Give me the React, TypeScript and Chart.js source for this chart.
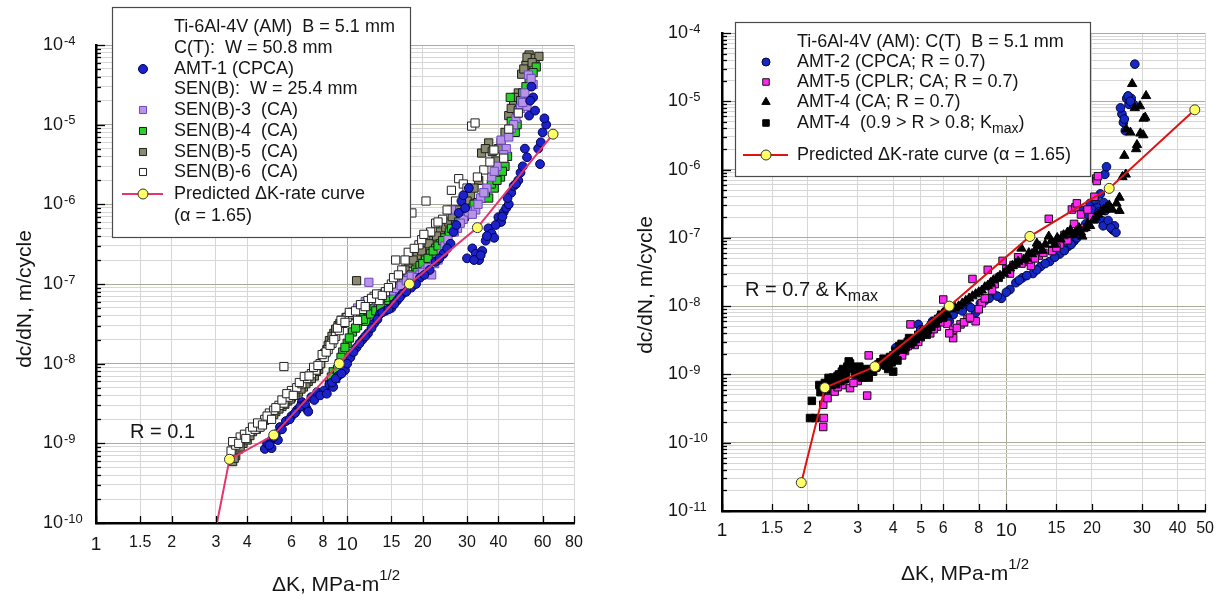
import React, { useEffect, useRef } from 'react';
import { Chart, registerables } from 'chart.js';

Chart.register(...registerables);

const FONT = "'Liberation Sans', Arial, Helvetica, sans-serif";
const H = 602;

// ---------------- LEFT CHART DATA (R = 0.1) ----------------
const leftXTickValues = [1, 1.5, 2, 3, 4, 6, 8, 10, 15, 20, 30, 40, 60, 80];
const leftYExponents = [-10, -9, -8, -7, -6, -5, -4];

const amt1 = [
  [4.7, 8.5e-10], [4.8, 1.0e-9], [5.0, 8.7e-10], [5.0, 1.1e-9], [5.2, 1.3e-9], [5.3, 1.1e-9], [5.4, 1.6e-9],
  [5.7, 1.9e-9], [6.0, 2.2e-9], [6.3, 2.6e-9], [6.6, 3.3e-9], [6.9, 2.7e-9], [7.2, 3.8e-9], [7.6, 4.4e-9],
  [8.1, 4.6e-9], [8.5, 5.5e-9], [8.8, 5.1e-9], [9.2, 7.0e-9], [9.8, 8.3e-9], [10.3, 1.2e-8], [10.9, 1.6e-8],
  [11.5, 2.0e-8], [12.1, 2.4e-8], [12.8, 3.2e-8], [13.5, 4.2e-8], [14.2, 4.6e-8], [15.0, 5.0e-8], [15.8, 6.2e-8],
  [16.6, 7.5e-8], [18.0, 9.0e-8], [19.5, 1.2e-7], [21.3, 1.5e-7], [22.5, 1.9e-7], [24.2, 2.4e-7], [25.8, 3.2e-7],
  [26.5, 4.5e-7], [27.8, 7.8e-7], [28.5, 1.1e-6], [29.5, 9.0e-7], [30.5, 1.6e-6], [31.5, 2.8e-7], [32.5, 2.4e-7],
  [33.5, 2.0e-7], [34.5, 2.6e-7], [35.6, 3.5e-7], [36.5, 5.0e-7], [37.6, 4.3e-7], [38.5, 3.8e-7], [40.0, 6.9e-7],
  [41.0, 6.0e-7], [42.0, 8.0e-7], [43.0, 9.0e-7], [44.0, 1.0e-6], [45.0, 1.4e-6], [46.0, 1.7e-6], [48.0, 2.0e-6],
  [49.0, 2.5e-6], [51.0, 5.0e-6], [52.0, 3.9e-6], [53.0, 1.3e-5], [54.2, 3.0e-5], [55.0, 2.2e-5], [57.6, 5.0e-6],
  [58.6, 3.2e-6], [60.0, 8.0e-6], [62.0, 1.0e-5],
  [4.9, 9.5e-10], [5.1, 1.2e-9], [5.5, 1.5e-9], [5.9, 2.0e-9], [6.2, 2.4e-9], [6.5, 2.9e-9], [6.8, 3.1e-9],
  [7.0, 2.5e-9], [7.4, 3.5e-9], [7.8, 4.0e-9], [8.3, 4.2e-9], [8.7, 5.8e-9], [9.0, 6.5e-9], [9.5, 7.5e-9],
  [10.0, 1.0e-8], [10.6, 1.4e-8], [11.2, 1.8e-8], [11.8, 2.2e-8], [12.5, 2.8e-8], [13.2, 3.6e-8], [13.8, 4.4e-8],
  [14.6, 4.8e-8], [15.4, 5.6e-8], [16.2, 6.8e-8], [17.2, 8.0e-8], [18.8, 1.0e-7], [20.3, 1.3e-7], [23.3, 2.1e-7],
  [25.0, 2.8e-7], [27.2, 5.5e-7], [29.0, 1.3e-6], [30.0, 2.1e-7], [32.0, 2.0e-7], [34.0, 2.3e-7], [36.0, 4.0e-7],
  [39.0, 5.5e-7], [41.5, 7.0e-7], [43.5, 1.2e-6], [47.0, 1.8e-6], [50.0, 3.0e-6], [53.5, 2.0e-5], [56.0, 1.5e-5],
  [59.0, 6.0e-6], [61.0, 1.2e-5],
];
const sen3 = [
  [11.0, 5.0e-8], [11.8, 6.0e-8], [12.2, 1.05e-7], [13.0, 6.8e-8], [13.8, 7.5e-8], [14.5, 8.0e-8], [15.3, 8.5e-8],
  [16.0, 9.0e-8], [16.8, 1.0e-7], [17.6, 1.2e-7], [18.5, 1.1e-7], [19.5, 1.3e-7], [20.5, 1.5e-7], [21.7, 1.3e-7],
  [23.0, 2.0e-7], [24.5, 3.0e-7], [26.0, 8.5e-7], [27.5, 5.0e-7], [29.0, 6.5e-7], [30.5, 8.0e-7], [32.5, 8.5e-7],
  [34.0, 1.2e-6], [36.0, 1.6e-6], [37.6, 2.2e-6], [39.5, 3.0e-6], [41.0, 6.4e-6], [43.0, 5.0e-6], [45.0, 9.0e-6],
  [47.0, 1.2e-5], [49.0, 1.6e-5], [52.0, 1.7e-5], [52.7, 4.2e-5], [55.0, 3.2e-5],
  [11.5, 5.5e-8], [12.5, 6.3e-8], [13.4, 7.0e-8], [14.2, 7.8e-8], [15.0, 8.2e-8], [15.7, 8.8e-8], [16.4, 9.5e-8],
  [17.2, 1.1e-7], [18.0, 1.25e-7], [19.0, 1.2e-7], [20.0, 1.4e-7], [21.0, 1.6e-7], [22.3, 1.8e-7], [23.8, 2.4e-7],
  [25.2, 3.6e-7], [26.7, 4.5e-7], [28.2, 5.8e-7], [31.5, 7.5e-7], [33.2, 1.0e-6], [35.0, 1.4e-6], [38.5, 2.6e-6],
  [42.0, 4.2e-6], [44.0, 7.0e-6], [46.0, 1.0e-5], [48.0, 1.4e-5], [50.0, 1.9e-5], [51.0, 2.5e-5], [54.0, 3.8e-5],
];
const sen4 = [
  [8.5, 5.5e-9], [8.8, 7.9e-9], [9.0, 6.5e-9], [9.3, 1.0e-8], [9.6, 1.4e-8], [10.0, 1.8e-8], [10.5, 2.5e-8],
  [11.0, 3.0e-8], [11.3, 3.8e-8], [11.9, 3.4e-8], [12.1, 4.6e-8], [12.8, 5.0e-8], [13.3, 5.6e-8], [13.9, 6.2e-8],
  [14.3, 6.2e-8], [15.0, 7.6e-8], [15.6, 8.3e-8], [16.0, 9.0e-8], [16.8, 1.05e-7], [17.5, 1.2e-7], [18.7, 1.5e-7],
  [19.5, 1.7e-7], [20.5, 2.0e-7], [21.5, 2.4e-7], [22.5, 2.8e-7], [23.5, 3.2e-7], [24.5, 3.8e-7], [25.5, 4.5e-7],
  [27.0, 5.5e-7], [28.5, 6.5e-7], [30.0, 7.5e-7], [31.5, 9.0e-7], [33.0, 1.05e-6], [34.3, 1.2e-6], [36.6, 1.2e-6],
  [38.5, 1.6e-6], [40.8, 2.2e-6], [42.5, 3.0e-6], [44.6, 2.2e-5], [45.0, 1.1e-5], [46.7, 8.0e-6], [48.0, 1.5e-5],
  [50.0, 2.5e-5], [53.0, 3.5e-5], [56.6, 5.3e-5],
  [8.65, 6.8e-9], [9.15, 8.5e-9], [9.45, 1.2e-8], [9.8, 1.6e-8], [10.2, 2.1e-8], [10.8, 2.8e-8], [11.6, 3.6e-8],
  [12.4, 4.2e-8], [13.0, 4.6e-8], [13.6, 5.2e-8], [14.6, 6.8e-8], [15.3, 7.0e-8], [16.4, 8.8e-8], [17.2, 1.0e-7],
  [18.0, 1.3e-7], [19.0, 1.4e-7], [20.0, 1.8e-7], [21.0, 2.1e-7], [22.0, 2.6e-7], [23.0, 3.0e-7], [24.0, 3.5e-7],
  [26.0, 5.0e-7], [27.8, 6.0e-7], [29.3, 7.0e-7], [32.0, 1.0e-6], [35.5, 1.4e-6], [37.5, 1.8e-6], [39.5, 2.0e-6],
  [41.5, 2.6e-6], [43.5, 4.0e-6], [47.5, 1.0e-5], [49.0, 2.0e-5], [51.5, 3.0e-5], [55.0, 4.5e-5],
];
const sen5 = [
  [3.5, 5.9e-10], [3.6, 7.0e-10], [3.7, 8.5e-10], [3.85, 1.0e-9], [4.0, 1.1e-9], [4.2, 1.4e-9], [4.45, 1.6e-9],
  [4.7, 1.95e-9], [4.95, 2.2e-9], [5.2, 2.5e-9], [5.5, 2.9e-9], [5.8, 3.4e-9], [6.0, 3.8e-9], [6.4, 4.4e-9],
  [6.7, 5.1e-9], [7.0, 6.0e-9], [7.4, 7.0e-9], [7.7, 8.5e-9], [8.0, 1.2e-8], [8.3, 1.5e-8], [8.5, 1.95e-8],
  [8.85, 2.4e-8], [9.2, 3.0e-8], [9.5, 3.5e-8], [9.7, 3.4e-8], [10.2, 4.0e-8], [10.9, 1.1e-7], [11.5, 5.0e-8],
  [12.5, 5.8e-8], [13.5, 6.8e-8], [14.5, 8.0e-8], [15.5, 1.0e-7], [16.5, 1.3e-7], [17.6, 1.8e-7], [19.0, 2.3e-7],
  [20.5, 2.9e-7], [22.0, 3.5e-7], [23.5, 4.5e-7], [24.7, 5.1e-7], [25.4, 6.0e-7], [27.0, 7.5e-7], [29.0, 9.6e-7],
  [31.0, 1.3e-6], [33.4, 2.0e-6], [34.3, 4.4e-6], [36.6, 5.9e-6], [39.0, 3.5e-6], [41.0, 6.0e-6], [44.0, 1.3e-5],
  [46.0, 1.9e-5], [48.0, 2.5e-5], [49.5, 4.3e-5], [51.5, 5.6e-5], [53.0, 7.5e-5], [56.0, 6.8e-5], [58.0, 7.2e-5],
  [3.55, 6.5e-10], [3.75, 9.0e-10], [3.95, 1.2e-9], [4.1, 1.25e-9], [4.35, 1.5e-9], [4.6, 1.75e-9], [4.85, 2.0e-9],
  [5.1, 2.3e-9], [5.35, 2.7e-9], [5.65, 3.1e-9], [5.95, 3.6e-9], [6.2, 4.0e-9], [6.55, 4.8e-9], [6.85, 5.6e-9],
  [7.2, 6.5e-9], [7.55, 8.0e-9], [7.85, 1.0e-8], [8.15, 1.35e-8], [8.4, 1.7e-8], [8.7, 2.2e-8], [9.0, 2.7e-8],
  [9.35, 3.2e-8], [9.9, 3.8e-8], [10.5, 4.4e-8], [11.0, 4.6e-8], [12.0, 5.4e-8], [13.0, 6.3e-8], [14.0, 7.4e-8],
  [15.0, 9.0e-8], [16.0, 1.15e-7], [17.0, 1.5e-7], [18.3, 2.0e-7], [19.8, 2.6e-7], [21.2, 3.2e-7], [22.7, 4.0e-7],
  [26.2, 7.0e-7], [28.0, 8.5e-7], [30.0, 1.1e-6], [32.0, 1.6e-6], [35.5, 5.0e-6], [37.8, 4.6e-6], [40.0, 5.0e-6],
  [42.5, 8.0e-6], [45.0, 1.6e-5], [47.0, 2.2e-5], [50.5, 5.0e-5], [52.0, 7.0e-5], [54.5, 6.0e-5],
];
const sen6 = [
  [3.45, 8.0e-10], [3.6, 9.5e-10], [3.75, 1.2e-9], [3.9, 1.3e-9], [4.1, 1.4e-9], [4.3, 1.5e-9], [4.5, 1.6e-9],
  [4.7, 2.0e-9], [4.9, 2.4e-9], [5.1, 2.6e-9], [5.35, 3.0e-9], [5.6, 3.2e-9], [5.6, 9.2e-9], [5.85, 3.8e-9],
  [6.0, 4.6e-9], [6.3, 5.0e-9], [6.6, 5.6e-9], [6.9, 6.5e-9], [7.2, 7.5e-9], [7.5, 8.3e-9], [7.8, 1.0e-8],
  [8.1, 1.2e-8], [8.4, 1.5e-8], [8.7, 1.8e-8], [9.0, 2.2e-8], [9.3, 2.6e-8], [9.6, 3.2e-8], [10.0, 3.8e-8],
  [10.5, 4.2e-8], [11.0, 3.5e-8], [11.5, 4.8e-8], [12.1, 6.2e-8], [12.8, 7.0e-8], [13.4, 6.2e-8], [14.2, 8.0e-8],
  [15.0, 1.0e-7], [15.6, 2.0e-7], [16.5, 1.5e-7], [17.5, 2.5e-7], [18.1, 7.8e-7], [19.3, 3.1e-7], [20.6, 1.1e-6],
  [21.5, 4.5e-7], [22.5, 5.8e-7], [24.0, 6.5e-7], [26.0, 1.5e-6], [27.8, 2.1e-6], [29.0, 1.8e-6], [31.3, 9.6e-6],
  [32.3, 1.05e-5], [35.0, 2.7e-6], [38.4, 4.8e-6], [42.0, 3.8e-6], [44.0, 8.8e-6], [48.0, 1.4e-5],
  [3.5, 1.05e-9], [3.7, 1.0e-9], [3.95, 1.15e-9], [4.2, 1.6e-9], [4.4, 1.8e-9], [4.6, 1.7e-9], [4.8, 2.2e-9],
  [5.0, 2.0e-9], [5.2, 2.8e-9], [5.5, 3.5e-9], [5.75, 4.2e-9], [6.1, 4.0e-9], [6.45, 5.8e-9], [6.75, 6.9e-9],
  [7.05, 7.0e-9], [7.35, 9.0e-9], [7.65, 9.5e-9], [7.95, 1.3e-8], [8.25, 1.4e-8], [8.55, 1.7e-8], [8.85, 2.0e-8],
  [9.15, 2.8e-8], [9.45, 3.5e-8], [9.8, 3.3e-8], [10.2, 4.4e-8], [10.8, 4.6e-8], [11.3, 5.5e-8], [11.8, 5.2e-8],
  [12.5, 6.6e-8], [13.1, 7.5e-8], [13.8, 7.2e-8], [14.6, 9.0e-8], [15.3, 1.2e-7], [16.0, 1.3e-7], [17.0, 2.0e-7],
  [18.5, 2.8e-7], [19.8, 3.6e-7], [20.2, 4.2e-7], [23.0, 6.0e-7], [25.0, 8.5e-7], [27.0, 1.1e-6], [30.0, 1.6e-6],
  [33.0, 2.2e-6], [37.0, 3.4e-6],
];
const leftPredicted = [
  [2.78, 2.5e-11], [3.4, 6.3e-10], [5.1, 1.27e-9], [9.3, 1.0e-8], [17.7, 1.0e-7], [33.0, 5.1e-7], [66.0, 7.6e-6],
];

// ---------------- RIGHT CHART DATA (R = 0.7 & Kmax) ----------------
const rightXTickValues = [1, 1.5, 2, 3, 4, 5, 6, 8, 10, 15, 20, 30, 40, 50];
const rightYExponents = [-11, -10, -9, -8, -7, -6, -5, -4];

const amt2 = [
  [4.08, 2.45e-9], [4.9, 5.4e-9], [5.5, 6.0e-9], [6.0, 7.0e-9], [6.3, 6.0e-9], [6.7, 9.0e-9], [7.3, 1.05e-8],
  [7.8, 8.0e-9], [8.4, 1.2e-8], [9.0, 1.5e-8], [9.6, 1.3e-8], [10.3, 1.75e-8], [10.8, 2.2e-8], [11.4, 2.6e-8],
  [12.4, 3.0e-8], [13.2, 3.8e-8], [14.2, 4.5e-8], [15.4, 5.8e-8], [16.5, 7.5e-8], [17.3, 9.0e-8], [18.0, 1.1e-7],
  [18.5, 2.5e-7], [19.0, 1.6e-7], [19.7, 3.2e-7], [20.3, 2.0e-7], [20.8, 2.8e-7], [21.0, 2.0e-7], [21.4, 4.4e-7],
  [21.7, 1.8e-7], [22.0, 3.3e-7], [22.2, 8.5e-7], [22.3, 2.5e-7], [22.5, 1.1e-6], [23.0, 2.8e-7], [23.7, 1.3e-7],
  [24.0, 1.5e-7], [25.5, 6.5e-6], [25.8, 4.9e-6], [26.2, 3.7e-6], [26.5, 1.1e-5], [27.0, 9.0e-6], [27.5, 1.1e-5],
  [28.0, 9.0e-6], [28.3, 3.5e-5],
  [5.0, 4.5e-9], [5.8, 6.5e-9], [6.5, 7.5e-9], [7.0, 8.5e-9], [7.5, 9.5e-9], [8.1, 1.1e-8], [8.7, 1.3e-8],
  [9.3, 1.4e-8], [10.0, 1.6e-8], [11.1, 2.4e-8], [11.8, 2.8e-8], [12.8, 3.4e-8], [13.7, 4.2e-8], [14.8, 5.2e-8],
  [16.0, 6.5e-8], [16.9, 8.0e-8], [17.7, 1.0e-7], [19.3, 2.2e-7], [20.0, 2.6e-7], [20.5, 3.6e-7], [21.2, 2.4e-7],
  [21.9, 1.5e-7], [22.8, 1.8e-7], [23.3, 1.4e-7], [24.3, 1.2e-7], [25.2, 8.0e-6], [26.0, 5.5e-6], [26.8, 1.2e-5],
  [27.3, 1.0e-5],
];
const amt5 = [
  [2.27, 3.6e-10], [2.28, 2.3e-10], [2.27, 1.7e-10], [2.49, 5.6e-10], [2.65, 7.0e-10], [2.82, 6.3e-10], [3.0, 8.0e-10],
  [3.24, 4.9e-10], [3.28, 1.9e-9], [3.5, 1.3e-9], [3.75, 1.6e-9], [4.0, 1.9e-9], [4.2, 2.4e-9], [4.4, 2.2e-9],
  [4.6, 5.4e-9], [4.76, 2.7e-9], [5.0, 3.5e-9], [5.15, 4.5e-9], [5.4, 4.0e-9], [5.7, 5.0e-9], [6.0, 1.25e-8],
  [6.2, 5.5e-9], [6.5, 4.5e-9], [6.5, 3.4e-9], [6.9, 5.4e-9], [7.3, 6.5e-9], [7.6, 2.5e-8], [7.8, 6.0e-9],
  [8.2, 1.1e-8], [8.6, 3.4e-8], [9.1, 2.1e-8], [9.7, 4.6e-8], [10.3, 3.0e-8], [11.0, 5.2e-8], [11.6, 4.5e-8],
  [12.2, 3.9e-8], [13.0, 5.5e-8], [14.1, 1.9e-7], [14.5, 6.4e-8], [15.4, 8.0e-8], [16.4, 9.2e-8], [17.0, 2.6e-7],
  [17.5, 2.8e-7], [17.7, 3.2e-7], [18.8, 1.4e-7], [20.0, 2.0e-7], [20.7, 7.4e-7], [20.8, 6.8e-7], [21.0, 8.0e-7],
  [2.35, 4.5e-10], [2.55, 6.5e-10], [2.9, 7.5e-10], [3.1, 9.0e-10], [3.35, 1.1e-9], [3.6, 1.5e-9], [3.85, 1.4e-9],
  [4.1, 2.1e-9], [4.3, 1.9e-9], [4.5, 2.6e-9], [4.9, 3.0e-9], [5.25, 3.8e-9], [5.55, 4.6e-9], [5.85, 5.8e-9],
  [6.3, 4.0e-9], [6.7, 4.8e-9], [7.1, 5.8e-9], [7.45, 6.8e-9], [8.0, 9.0e-9], [8.4, 1.3e-8], [8.9, 1.7e-8],
  [9.4, 2.6e-8], [10.0, 3.5e-8], [10.6, 4.0e-8], [11.3, 4.2e-8], [12.0, 4.8e-8], [12.6, 5.0e-8], [13.5, 6.0e-8],
  [15.0, 7.2e-8], [16.0, 1.1e-7], [17.3, 1.6e-7], [18.3, 2.2e-7], [19.3, 2.6e-7], [20.4, 4.0e-7],
];
const amt4ca = [
  [5.3, 5.0e-9], [5.7, 6.5e-9], [6.0, 8.0e-9], [6.4, 9.0e-9], [6.8, 1.0e-8], [7.2, 1.2e-8], [7.6, 1.4e-8],
  [8.0, 1.6e-8], [8.4, 1.9e-8], [8.8, 2.2e-8], [9.3, 2.6e-8], [9.8, 3.0e-8], [10.3, 3.6e-8], [10.8, 4.2e-8],
  [11.3, 7.0e-8], [11.8, 5.0e-8], [12.3, 5.8e-8], [12.8, 8.3e-8], [13.4, 6.5e-8], [14.1, 1.05e-7], [14.8, 8.0e-8],
  [15.5, 9.5e-8], [16.4, 1.2e-7], [17.2, 1.1e-7], [18.0, 1.4e-7], [18.5, 1.05e-7], [19.3, 1.6e-7], [20.2, 1.8e-7],
  [21.0, 2.2e-7], [22.0, 2.6e-7], [23.0, 3.0e-7], [24.4, 3.2e-7], [25.0, 3.9e-7], [25.0, 2.5e-7], [25.6, 7.8e-7],
  [26.0, 1.6e-6], [26.3, 8.5e-7], [26.4, 3.9e-6], [27.3, 3.5e-6], [27.7, 1.8e-5], [28.3, 8.0e-6], [28.6, 2.0e-6],
  [28.8, 2.3e-6], [29.5, 8.5e-6], [29.6, 3.4e-6], [30.3, 3.2e-6], [30.4, 5.6e-6], [30.8, 5.8e-6], [31.0, 1.2e-5],
  [5.5, 5.8e-9], [5.85, 7.0e-9], [6.2, 7.5e-9], [6.6, 9.5e-9], [7.0, 1.1e-8], [7.4, 1.3e-8], [7.8, 1.5e-8],
  [8.2, 1.7e-8], [8.6, 2.0e-8], [9.0, 2.4e-8], [9.5, 2.8e-8], [10.0, 3.3e-8], [10.5, 3.9e-8], [11.0, 4.5e-8],
  [11.5, 4.8e-8], [12.0, 6.0e-8], [12.6, 6.5e-8], [13.1, 7.5e-8], [13.7, 8.0e-8], [14.4, 9.0e-8], [15.1, 1.0e-7],
  [15.9, 1.1e-7], [16.8, 1.3e-7], [17.6, 1.25e-7], [18.3, 1.2e-7], [19.0, 1.4e-7], [19.7, 1.5e-7], [20.6, 2.0e-7],
  [21.5, 2.4e-7], [22.5, 2.8e-7], [23.6, 2.6e-7],
];
const amt4kmax = [
  [2.04, 2.3e-10], [2.07, 4.1e-10], [2.13, 2.3e-10], [2.2, 7.0e-10], [2.25, 6.0e-10], [2.3, 7.5e-10], [2.37, 8.9e-10],
  [2.43, 7.0e-10], [2.49, 7.9e-10], [2.55, 9.5e-10], [2.64, 1.1e-9], [2.7, 8.5e-10], [2.76, 1.3e-9], [2.82, 1.45e-9],
  [2.9, 1.2e-9], [3.0, 1.1e-9], [3.08, 1.0e-9], [3.15, 1.2e-9], [3.28, 9.0e-10], [3.4, 1.1e-9], [3.55, 1.4e-9],
  [3.7, 1.7e-9], [3.84, 1.2e-9], [3.95, 1.5e-9], [4.0, 1.1e-9], [4.08, 2.2e-9], [4.2, 2.6e-9], [4.35, 2.3e-9],
  [4.5, 3.0e-9], [4.6, 2.8e-9], [4.8, 3.3e-9], [5.0, 3.6e-9], [5.1, 4.2e-9], [5.3, 4.5e-9], [5.55, 5.6e-9],
  [5.75, 6.5e-9], [5.9, 7.5e-9], [6.1, 8.0e-9],
  [2.22, 5.5e-10], [2.28, 6.8e-10], [2.33, 6.0e-10], [2.4, 8.0e-10], [2.46, 9.0e-10], [2.52, 7.2e-10], [2.58, 1.0e-9],
  [2.61, 8.0e-10], [2.67, 1.2e-9], [2.73, 1.0e-9], [2.79, 1.55e-9], [2.86, 1.3e-9], [2.94, 1.0e-9], [3.04, 1.3e-9],
  [3.12, 9.0e-10], [3.2, 1.05e-9], [3.34, 1.2e-9], [3.47, 1.25e-9], [3.62, 1.5e-9], [3.77, 1.35e-9], [3.9, 1.8e-9],
  [4.04, 1.9e-9], [4.14, 1.6e-9], [4.28, 2.8e-9], [4.42, 2.5e-9], [4.55, 3.4e-9], [4.7, 3.0e-9], [4.9, 3.8e-9],
  [5.2, 3.9e-9], [5.45, 5.0e-9], [5.65, 5.6e-9], [6.0, 6.8e-9],
];
const rightPredicted = [
  [1.9, 2.6e-11], [2.3, 6.4e-10], [3.45, 1.3e-9], [6.3, 1.0e-8], [12.1, 1.05e-7], [23.0, 5.3e-7], [46.0, 7.5e-6],
];

// ---------------- helpers ----------------
const toPts = (arr) => arr.map((p) => ({ x: p[0], y: p[1] }));

function isDecade(v) {
  const l = Math.log10(v);
  return Math.abs(l - Math.round(l)) < 1e-6;
}

function buildYTicks(exps) {
  const lo = Math.min(...exps);
  const hi = Math.max(...exps);
  const out = [];
  for (let e = lo; e < hi; e++) {
    for (let m = 1; m < 10; m++) out.push(m * Math.pow(10, e));
  }
  out.push(Math.pow(10, hi));
  return out;
}

function drawMarker(ctx, style, x, y, r, fill, stroke, bw) {
  ctx.beginPath();
  if (style === 'circle') {
    ctx.arc(x, y, r, 0, Math.PI * 2);
  } else if (style === 'rect') {
    const s = r * Math.SQRT1_2;
    ctx.rect(x - s, y - s, 2 * s, 2 * s);
  } else if (style === 'triangle') {
    let rad = 0;
    const step = (2 * Math.PI) / 3;
    ctx.moveTo(x + Math.sin(rad) * r, y - Math.cos(rad) * r);
    rad += step;
    ctx.lineTo(x + Math.sin(rad) * r, y - Math.cos(rad) * r);
    rad += step;
    ctx.lineTo(x + Math.sin(rad) * r, y - Math.cos(rad) * r);
    ctx.closePath();
  }
  ctx.fillStyle = fill;
  ctx.fill();
  ctx.lineWidth = bw;
  ctx.strokeStyle = stroke;
  ctx.stroke();
}

function drawParts(ctx, parts, x, y, size, color) {
  let cx = x;
  ctx.textBaseline = 'middle';
  ctx.textAlign = 'left';
  ctx.fillStyle = color;
  for (const p of parts) {
    let s = size;
    let dy = 0;
    if (p.sub) { s = Math.round(size * 0.78); dy = size * 0.32; }
    if (p.sup) { s = Math.round(size * 0.72); dy = -size * 0.42; }
    ctx.font = `${s}px ${FONT}`;
    ctx.fillText(p.t, cx, y + dy);
    cx += ctx.measureText(p.t).width;
  }
  return cx - x;
}

function measureParts(ctx, parts, size) {
  let w = 0;
  for (const p of parts) {
    let s = size;
    if (p.sub) s = Math.round(size * 0.78);
    if (p.sup) s = Math.round(size * 0.72);
    ctx.font = `${s}px ${FONT}`;
    w += ctx.measureText(p.t).width;
  }
  return w;
}

const MAJOR_GRID = '#aaa99a';
const MINOR_GRID = '#d6d6d6';
const TEXT = '#151515';

function makeDecor(spec) {
  return {
    id: 'decor' + spec.key,
    afterDraw(chart) {
      const { ctx, chartArea } = chart;
      const xs = chart.scales.x;
      const ys = chart.scales.y;
      ctx.save();
      // inside tick marks
      ctx.strokeStyle = '#000';
      ctx.lineWidth = 1.3;
      for (const v of spec.yTicks) {
        const y = Math.round(ys.getPixelForValue(v)) + 0.5;
        const len = isDecade(v) ? 9 : 5;
        ctx.beginPath();
        ctx.moveTo(chartArea.left, y);
        ctx.lineTo(chartArea.left + len, y);
        ctx.stroke();
      }
      for (const v of spec.xTicks) {
        const x = Math.round(xs.getPixelForValue(v)) + 0.5;
        ctx.beginPath();
        ctx.moveTo(x, chartArea.bottom);
        ctx.lineTo(x, chartArea.bottom - 7);
        ctx.stroke();
      }
      // y tick labels: 10^e
      for (const e of spec.yExps) {
        const y = ys.getPixelForValue(Math.pow(10, e));
        ctx.font = `${spec.yLabelSize}px ${FONT}`;
        ctx.fillStyle = TEXT;
        ctx.textAlign = 'left';
        ctx.textBaseline = 'middle';
        ctx.fillText('10', spec.yLabelX, y);
        const w = ctx.measureText('10').width;
        ctx.font = `${spec.yExpSize}px ${FONT}`;
        ctx.fillText(String(e), spec.yLabelX + w + 1, y - 4);
      }
      // y title
      ctx.save();
      ctx.translate(spec.yTitle.x, spec.yTitle.y);
      ctx.rotate(-Math.PI / 2);
      ctx.font = `${spec.titleSize}px ${FONT}`;
      ctx.fillStyle = TEXT;
      ctx.textAlign = 'center';
      ctx.textBaseline = 'middle';
      ctx.fillText('dc/dN, m/cycle', 0, 0);
      ctx.restore();
      // x title
      const xParts = [{ t: '\u0394K, MPa-m' }, { t: '1/2', sup: true }];
      const xw = measureParts(ctx, xParts, spec.titleSize);
      drawParts(ctx, xParts, spec.xTitle.x - xw / 2, spec.xTitle.y, spec.titleSize, TEXT);
      // annotation
      drawParts(ctx, spec.note.parts, spec.note.x, spec.note.y, spec.note.size, TEXT);
      // legend
      const L = spec.legend;
      ctx.fillStyle = '#ffffff';
      ctx.fillRect(L.box[0], L.box[1], L.box[2], L.box[3]);
      ctx.strokeStyle = '#4a4a4a';
      ctx.lineWidth = 1.2;
      ctx.strokeRect(L.box[0] + 0.5, L.box[1] + 0.5, L.box[2], L.box[3]);
      for (const row of L.rows) {
        if (row.ds !== undefined) {
          const ds = chart.data.datasets[row.ds];
          if (row.line) {
            ctx.strokeStyle = ds.borderColor;
            ctx.lineWidth = ds.borderWidth;
            ctx.beginPath();
            ctx.moveTo(L.lineX[0], row.y);
            ctx.lineTo(L.lineX[1], row.y);
            ctx.stroke();
          }
          drawMarker(ctx, ds.pointStyle, L.markerX, row.y, row.r || ds.pointRadius,
            ds.pointBackgroundColor, ds.pointBorderColor, ds.pointBorderWidth);
        }
        drawParts(ctx, row.parts, L.textX, row.y, L.size, TEXT);
      }
      ctx.restore();
    },
  };
}

function makeConfig(spec) {
  const area = spec.area;
  return {
    type: 'scatter',
    data: { datasets: spec.datasets },
    options: {
      animation: false,
      responsive: false,
      devicePixelRatio: 1,
      events: [],
      layout: { padding: { left: 0, right: spec.canvasWidth - area.right, top: area.top, bottom: 0 } },
      plugins: { legend: { display: false }, tooltip: { enabled: false } },
      scales: {
        x: {
          type: 'logarithmic',
          min: spec.xMin,
          max: spec.xMax,
          afterBuildTicks: (scale) => { scale.ticks = spec.xTicks.map((v) => ({ value: v })); },
          afterFit: (scale) => { scale.height = H - area.bottom; },
          grid: {
            drawTicks: false,
            lineWidth: 1,
            color: (c) => (c.tick && c.tick.value === 10 ? MAJOR_GRID : MINOR_GRID),
          },
          border: { display: true, color: '#000', width: 2.5 },
          ticks: {
            autoSkip: false,
            maxRotation: 0,
            padding: spec.xLabelPad,
            color: TEXT,
            font: (c) => ({ family: FONT, size: c.tick && (c.tick.value === 1 || c.tick.value === 10) ? 19 : 16 }),
            callback: (v) => String(v),
          },
        },
        y: {
          type: 'logarithmic',
          min: Math.pow(10, Math.min(...spec.yExps)),
          max: Math.pow(10, Math.max(...spec.yExps)),
          afterBuildTicks: (scale) => { scale.ticks = spec.yTicks.map((v) => ({ value: v })); },
          afterFit: (scale) => { scale.width = area.left; },
          grid: {
            drawTicks: false,
            lineWidth: 1,
            color: (c) => (c.tick && isDecade(c.tick.value) ? MAJOR_GRID : MINOR_GRID),
          },
          border: { display: true, color: '#000', width: 2.5 },
          ticks: { display: false },
        },
      },
    },
    plugins: [makeDecor(spec)],
  };
}

function pointSet(label, data, style, r, fill, stroke) {
  return {
    label,
    data: toPts(data),
    pointStyle: style,
    pointRadius: r,
    pointBackgroundColor: fill,
    pointBorderColor: stroke,
    pointBorderWidth: 1,
    backgroundColor: fill,
    borderColor: stroke,
  };
}

function lineSet(label, data, color) {
  return {
    label,
    data: toPts(data),
    showLine: true,
    borderColor: color,
    borderWidth: 2,
    tension: 0,
    pointStyle: 'circle',
    pointRadius: 5,
    pointBackgroundColor: '#ffff66',
    pointBorderColor: '#333333',
    pointBorderWidth: 1,
    clip: 0,
  };
}

// Dataset index 0 is drawn on top (Chart.js draws in reverse order).
const leftSpec = {
  key: 'L',
  canvasLeft: 0,
  canvasWidth: 610,
  area: { left: 96, right: 574, top: 45, bottom: 523 },
  xMin: 1,
  xMax: 80,
  xTicks: leftXTickValues,
  yExps: leftYExponents,
  yTicks: buildYTicks(leftYExponents),
  xLabelPad: 10,
  yLabelX: 43,
  yLabelSize: 18,
  yExpSize: 13,
  titleSize: 21,
  yTitle: { x: 25, y: 299 },
  xTitle: { x: 336, y: 585 },
  note: { x: 130, y: 432, size: 20, parts: [{ t: 'R = 0.1' }] },
  legend: {
    box: [112, 7, 298, 230],
    textX: 174,
    markerX: 143,
    lineX: [122, 163],
    size: 18,
    rows: [
      { y: 27, parts: [{ t: 'Ti-6Al-4V (AM)  B = 5.1 mm' }] },
      { y: 48, parts: [{ t: 'C(T):  W = 50.8 mm' }] },
      { y: 69, ds: 1, r: 4.5, parts: [{ t: 'AMT-1 (CPCA)' }] },
      { y: 89, parts: [{ t: 'SEN(B):  W = 25.4 mm' }] },
      { y: 110, ds: 3, r: 5, parts: [{ t: 'SEN(B)-3  (CA)' }] },
      { y: 131, ds: 4, r: 5, parts: [{ t: 'SEN(B)-4  (CA)' }] },
      { y: 152, ds: 5, r: 5, parts: [{ t: 'SEN(B)-5  (CA)' }] },
      { y: 172, ds: 2, r: 5, parts: [{ t: 'SEN(B)-6  (CA)' }] },
      { y: 194, ds: 0, line: true, parts: [{ t: 'Predicted \u0394K-rate curve' }] },
      { y: 216, parts: [{ t: '(\u03b1 = 1.65)' }] },
    ],
  },
  datasets: [
    lineSet('Predicted \u0394K-rate curve (\u03b1 = 1.65)', leftPredicted, '#e8336b'),
    pointSet('AMT-1 (CPCA)', amt1, 'circle', 4.4, '#1b22c9', '#000050'),
    pointSet('SEN(B)-6 (CA)', sen6, 'rect', 5.8, '#ffffff', '#222222'),
    pointSet('SEN(B)-3 (CA)', sen3, 'rect', 5.8, '#b893e6', '#6a4ac0'),
    pointSet('SEN(B)-4 (CA)', sen4, 'rect', 5.8, '#27d127', '#1a1a1a'),
    pointSet('SEN(B)-5 (CA)', sen5, 'rect', 5.8, '#8a8a70', '#1e1e18'),
  ],
};

const rightSpec = {
  key: 'R',
  canvasLeft: 610,
  canvasWidth: 612,
  area: { left: 112, right: 597, top: 33, bottom: 511 },
  xMin: 1,
  xMax: 50,
  xTicks: rightXTickValues,
  yExps: rightYExponents,
  yTicks: buildYTicks(rightYExponents),
  xLabelPad: 8,
  yLabelX: 58,
  yLabelSize: 18,
  yExpSize: 13,
  titleSize: 21,
  yTitle: { x: 36, y: 285 },
  xTitle: { x: 355, y: 574 },
  note: { x: 135, y: 290, size: 20, parts: [{ t: 'R = 0.7 & K' }, { t: 'max', sub: true }] },
  legend: {
    box: [125, 22, 355, 154],
    textX: 187,
    markerX: 156,
    lineX: [133, 178],
    size: 18,
    rows: [
      { y: 42, parts: [{ t: 'Ti-6Al-4V (AM): C(T)  B = 5.1 mm' }] },
      { y: 62, ds: 4, r: 4, parts: [{ t: 'AMT-2 (CPCA; R = 0.7)' }] },
      { y: 82, ds: 3, r: 4.6, parts: [{ t: 'AMT-5 (CPLR; CA; R = 0.7)' }] },
      { y: 102, ds: 1, r: 4.8, parts: [{ t: 'AMT-4 (CA; R = 0.7)' }] },
      { y: 123, ds: 2, r: 4.6, parts: [{ t: 'AMT-4  (0.9 > R > 0.8; K' }, { t: 'max', sub: true }, { t: ')' }] },
      { y: 155, ds: 0, line: true, parts: [{ t: 'Predicted \u0394K-rate curve (\u03b1 = 1.65)' }] },
    ],
  },
  datasets: [
    lineSet('Predicted \u0394K-rate curve (\u03b1 = 1.65)', rightPredicted, '#e01212'),
    pointSet('AMT-4 (CA; R = 0.7)', amt4ca, 'triangle', 5.4, '#000000', '#000000'),
    pointSet('AMT-4 (0.9 > R > 0.8; Kmax)', amt4kmax, 'rect', 5.3, '#000000', '#000000'),
    pointSet('AMT-5 (CPLR; CA; R = 0.7)', amt5, 'rect', 5.3, '#ff26f4', '#111111'),
    pointSet('AMT-2 (CPCA; R = 0.7)', amt2, 'circle', 4.3, '#1428c4', '#000040'),
  ],
};

function ChartCanvas({ spec }) {
  const ref = useRef(null);
  useEffect(() => {
    const chart = new Chart(ref.current, makeConfig(spec));
    return () => chart.destroy();
  }, [spec]);
  return (
    <canvas
      ref={ref}
      width={spec.canvasWidth}
      height={H}
      style={{ position: 'absolute', left: spec.canvasLeft, top: 0, width: spec.canvasWidth, height: H }}
    />
  );
}

export default function App() {
  return (
    <div style={{ position: 'fixed', left: 0, top: 0, width: 1222, height: H, background: '#ffffff', overflow: 'hidden' }}>
      <ChartCanvas spec={leftSpec} />
      <ChartCanvas spec={rightSpec} />
    </div>
  );
}
